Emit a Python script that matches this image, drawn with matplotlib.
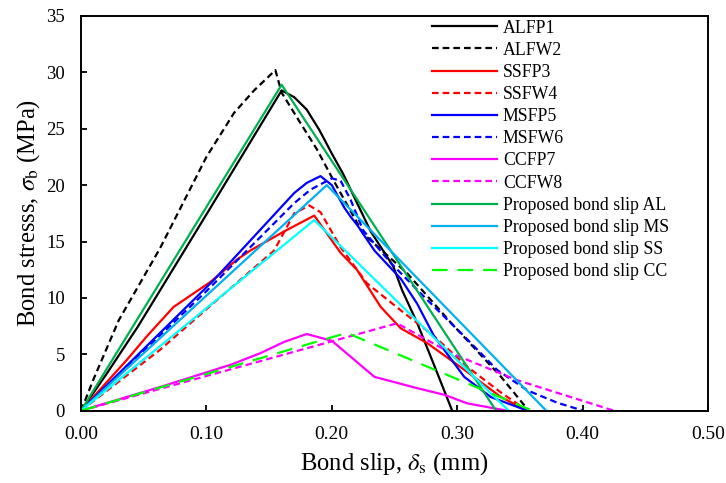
import matplotlib
matplotlib.use('Agg')
import matplotlib.pyplot as plt

plt.rcParams['font.family'] = ['Liberation Serif', 'DejaVu Serif']
plt.rcParams['mathtext.fontset'] = 'stix'

# Experimental curves (slip in mm, stress in MPa)
alfp1_x = [0, 0.02, 0.045, 0.05, 0.1, 0.16, 0.17, 0.18, 0.19, 0.2, 0.209, 0.231, 0.249, 0.256, 0.268, 0.281, 0.296]
alfp1_y = [0, 3.2, 7.4, 8.3, 17.4, 28.4, 27.8, 26.7, 24.9, 22.8, 21.0, 15.9, 12.8, 10.7, 7.8, 4.2, 0]

alfw2_x = [0, 0.01, 0.03, 0.063, 0.1, 0.122, 0.138, 0.155, 0.16, 0.175, 0.188, 0.2, 0.225, 0.26, 0.295, 0.335, 0.357]
alfw2_y = [0, 2.8, 8.0, 14.4, 22.5, 26.4, 28.4, 30.2, 28.2, 25.5, 23.2, 20.7, 15.7, 12.2, 7.8, 3.0, 0]

ssfp3_x = [0, 0.0365, 0.0525, 0.0738, 0.103, 0.1244, 0.135, 0.162, 0.186, 0.207, 0.22, 0.239, 0.255, 0.276, 0.306, 0.335, 0.356]
ssfp3_y = [0, 4.5, 6.6, 9.2, 11.4, 13.4, 14.2, 15.9, 17.3, 14.0, 12.5, 9.2, 7.3, 6.0, 3.6, 1.2, 0]

ssfw4_x = [0, 0.063, 0.1, 0.154, 0.17, 0.182, 0.191, 0.207, 0.228, 0.255, 0.2816, 0.308, 0.335, 0.356]
ssfw4_y = [0, 5.4, 9.0, 14.2, 17.5, 18.2, 17.6, 14.5, 11.3, 8.9, 6.6, 3.9, 1.6, 0]

msfp5_x = [0, 0.106, 0.17, 0.18, 0.191, 0.2, 0.21, 0.215, 0.22, 0.234, 0.255, 0.268, 0.2816, 0.3056, 0.327, 0.356]
msfp5_y = [0, 11.6, 19.3, 20.2, 20.8, 20.0, 18.0, 17.2, 16.5, 14.2, 11.7, 9.5, 6.6, 3.0, 1.2, 0]

msfw6_x = [0, 0.1, 0.17, 0.183, 0.2, 0.207, 0.215, 0.225, 0.247, 0.2736, 0.3056, 0.332, 0.356, 0.38, 0.4005]
msfw6_y = [0, 10.6, 18.4, 19.6, 20.6, 20.4, 18.7, 16.0, 13.1, 10.1, 6.6, 3.6, 1.8, 0.7, 0]

ccfp7_x = [0, 0.063, 0.12, 0.143, 0.162, 0.18, 0.2, 0.234, 0.268, 0.29, 0.308, 0.33, 0.34]
ccfp7_y = [0, 2.1, 4.1, 5.1, 6.1, 6.8, 6.2, 3.0, 2.0, 1.4, 0.65, 0.2, 0]

ccfw8_x = [0, 0.252, 0.295, 0.348, 0.425]
ccfw8_y = [0, 7.75, 5.1, 2.7, 0]

# Proposed bond-slip models (origin, peak, end)
prop_al_x = [0, 0.160, 0.331]
prop_al_y = [0, 28.9, 0]
prop_ms_x = [0, 0.196, 0.371]
prop_ms_y = [0, 20.0, 0]
prop_ss_x = [0, 0.186, 0.341]
prop_ss_y = [0, 16.9, 0]
prop_cc_x = [0, 0.212, 0.360]
prop_cc_y = [0, 6.9, 0]

short_dash = (0, (3, 1.8))
long_dash = (0, (7, 4.5))
lw = 1.6

fig = plt.figure(figsize=(7.26, 4.83), dpi=100)
ax = fig.add_axes([0.1116, 0.1497, 0.8636, 0.8172])

ax.plot(alfp1_x, alfp1_y, color='black', lw=lw, label='ALFP1')
ax.plot(alfw2_x, alfw2_y, color='black', lw=lw, ls=short_dash, label='ALFW2')
ax.plot(ssfp3_x, ssfp3_y, color='#FF0000', lw=lw, label='SSFP3')
ax.plot(ssfw4_x, ssfw4_y, color='#FF0000', lw=lw, ls=short_dash, label='SSFW4')
ax.plot(msfp5_x, msfp5_y, color='#0000FF', lw=lw, label='MSFP5')
ax.plot(msfw6_x, msfw6_y, color='#0000FF', lw=lw, ls=short_dash, label='MSFW6')
ax.plot(ccfp7_x, ccfp7_y, color='#FF00FF', lw=lw, label='CCFP7')
ax.plot(ccfw8_x, ccfw8_y, color='#FF00FF', lw=lw, ls=short_dash, label='CCFW8')
ax.plot(prop_al_x, prop_al_y, color='#00B050', lw=lw, label='Proposed bond slip AL')
ax.plot(prop_ms_x, prop_ms_y, color='#00B0F0', lw=lw, label='Proposed bond slip MS')
ax.plot(prop_ss_x, prop_ss_y, color='#00FFFF', lw=lw, label='Proposed bond slip SS')
ax.plot(prop_cc_x, prop_cc_y, color='#00FF00', lw=lw, ls=long_dash, label='Proposed bond slip CC')

ax.set_xlim(0, 0.5)
ax.set_ylim(0, 35)
ax.set_xticks([0, 0.1, 0.2, 0.3, 0.4, 0.5])
ax.set_xticklabels(['0.00', '0.10', '0.20', '0.30', '0.40', '0.50'])
ax.set_yticks(range(0, 36, 5))
ax.tick_params(direction='in', length=4, width=1.3)
ax.tick_params(axis='x', labelsize=14, pad=11)
ax.tick_params(axis='y', labelsize=13.5, pad=11.5)

for s in ax.spines.values():
    s.set_linewidth(1.4)

ax.set_xlabel(r'Bond slip, $\delta_{\mathrm{s}}$ (mm)', fontsize=17.7, labelpad=5)
ax.set_ylabel(r'Bond stresss, $\sigma_{\mathrm{b}}$ (MPa)', fontsize=17.7, labelpad=3)

ax.legend(loc='upper left', bbox_to_anchor=(0.5536, 1.0), frameon=False,
          fontsize=12.8, handlelength=3.7, handletextpad=0.3,
          labelspacing=0.29, borderaxespad=0.0, borderpad=0.2)

fig.savefig('out.png', dpi=100)
